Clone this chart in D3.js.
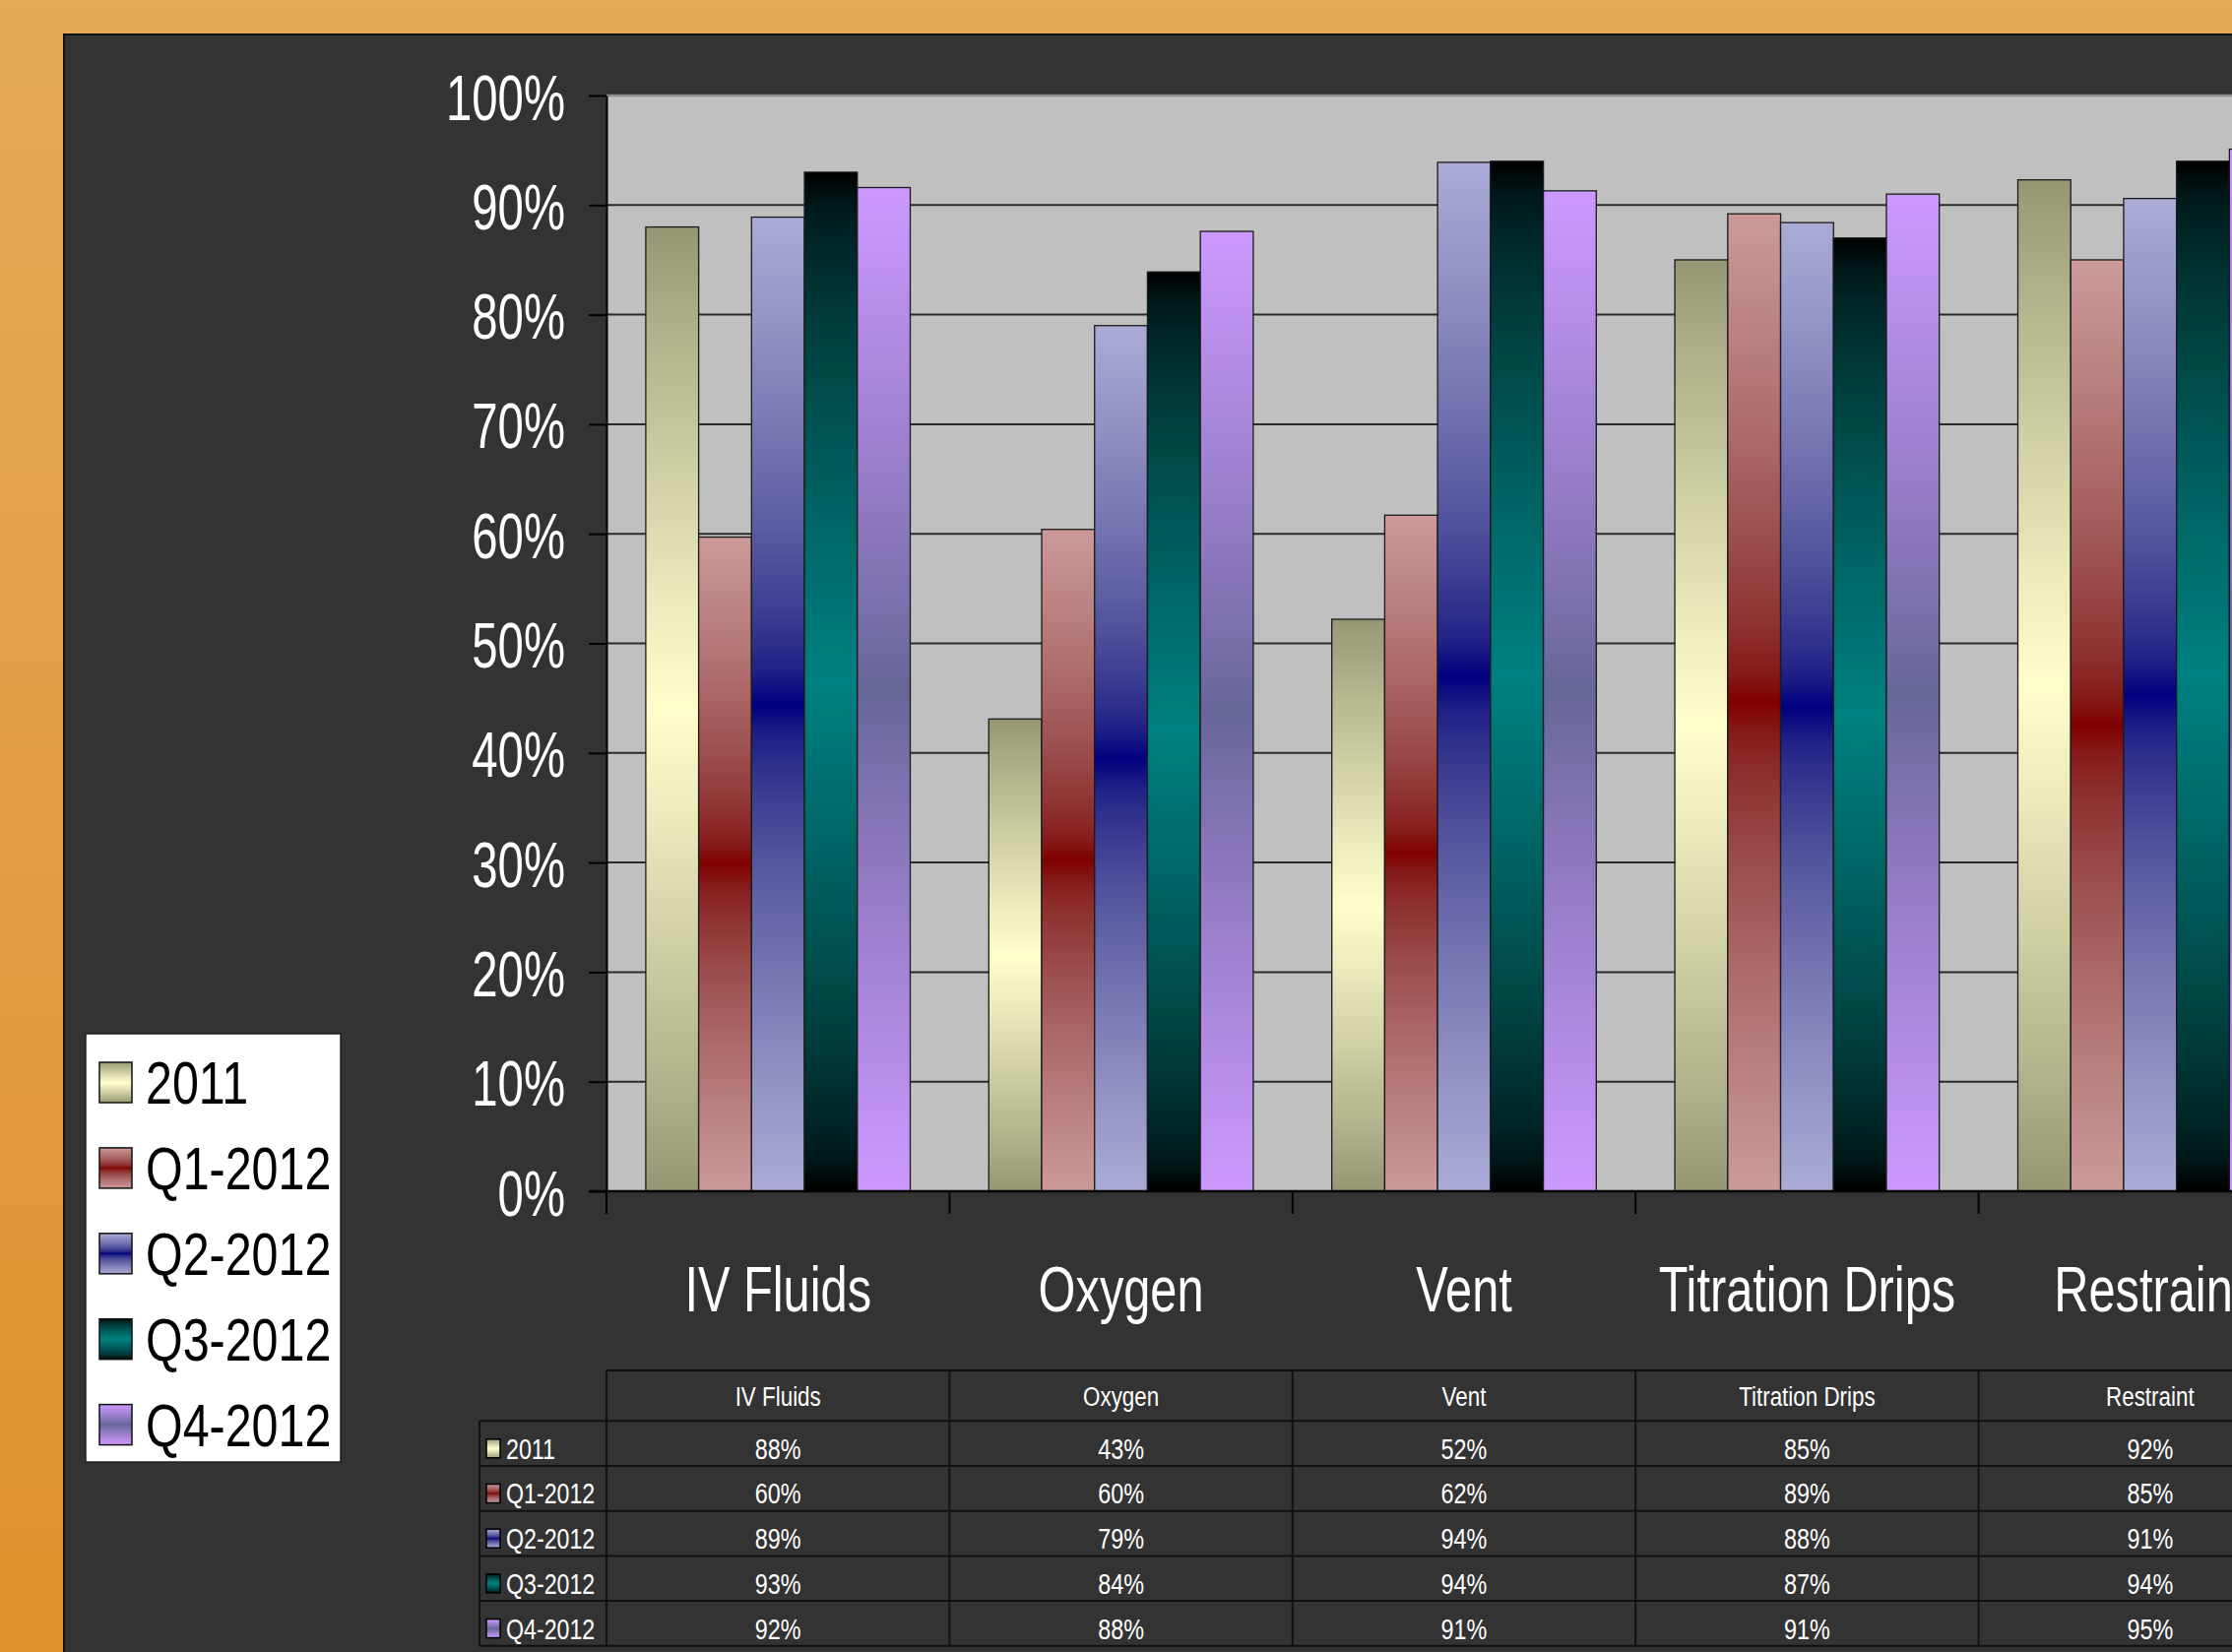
<!DOCTYPE html>
<html>
<head>
<meta charset="utf-8">
<script src="https://cdn.jsdelivr.net/npm/d3@7/dist/d3.min.js"></script>
<style>
  html, body { margin: 0; padding: 0; overflow: hidden; background: #E3A048; }
  svg { display: block; }
  text { font-family: "Liberation Sans", Arial, sans-serif; }
</style>
</head>
<body>
<script>
// ---------------- data ----------------
const categories = ["IV Fluids", "Oxygen", "Vent", "Titration Drips", "Restraint"];
const series = ["2011", "Q1-2012", "Q2-2012", "Q3-2012", "Q4-2012"];
const values2011 = [0.880, 0.431, 0.522, 0.850, 0.923];
const valuesQ1 = [0.597, 0.604, 0.617, 0.892, 0.850];
const valuesQ2 = [0.889, 0.790, 0.939, 0.884, 0.906];
const valuesQ3 = [0.930, 0.839, 0.940, 0.870, 0.940];
const valuesQ4 = [0.916, 0.876, 0.913, 0.910, 0.951];
const yTicks = [0, 0.1, 0.2, 0.3, 0.4, 0.5, 0.6, 0.7, 0.8, 0.9, 1.0];
const seriesValues = [values2011, valuesQ1, valuesQ2, valuesQ3, valuesQ4];
// gradient end / center colours per series
const gradEnds = ["#969675", "#CC9999", "#ABABD6", "#000000", "#CC99FF"];
const gradMids = ["#FFFFCC", "#800000", "#000080", "#008080", "#666699"];

// ---------------- layout ----------------
const W = 2267, H = 1678;
const plotLeft = 616, plotTop = 97, plotBottom = 1210;
const bandW = 348.4, halfGap = 39.9;

const svg = d3.select("body").append("svg").attr("width", W).attr("height", H);
const defs = svg.append("defs");

// background orange
const bg = defs.append("linearGradient").attr("id", "bgGrad").attr("x1", 0).attr("y1", 0).attr("x2", 0).attr("y2", 1);
bg.append("stop").attr("offset", "0%").attr("stop-color", "#E5A958");
bg.append("stop").attr("offset", "100%").attr("stop-color", "#E0912F");
svg.append("rect").attr("width", W).attr("height", H).attr("fill", "url(#bgGrad)");

// dark panel
svg.append("rect").attr("x", 65).attr("y", 35).attr("width", W).attr("height", H)
  .attr("fill", "#333333").attr("stroke", "#111").attr("stroke-width", 2);

// gradients per series (end -> center -> end, gamma-corrected blend)
series.forEach((s, i) => {
  const g = defs.append("linearGradient").attr("id", "g" + i)
    .attr("x1", 0).attr("y1", 0).attr("x2", 0).attr("y2", 1);
  const interp = d3.interpolateRgb.gamma(1.6)(gradEnds[i], gradMids[i]);
  const n = 16;
  d3.range(n + 1).forEach(k => {
    const t = k / n;
    g.append("stop").attr("offset", (t * 50) + "%").attr("stop-color", interp(t));
  });
  d3.range(n - 1, -1, -1).forEach(k => {
    const t = k / n;
    g.append("stop").attr("offset", (100 - t * 50) + "%").attr("stop-color", interp(t));
  });
});

// scales
const x0 = d3.scaleBand().domain(categories).range([plotLeft, plotLeft + categories.length * bandW]);
const x1 = d3.scaleBand().domain(series).range([halfGap, bandW - halfGap]);
const y = d3.scaleLinear().domain([0, 1]).range([plotBottom, plotTop]);
const plotRight = plotLeft + categories.length * bandW;

// plot area
svg.append("rect").attr("x", plotLeft).attr("y", plotTop)
  .attr("width", plotRight - plotLeft).attr("height", plotBottom - plotTop)
  .attr("fill", "#C0C0C0");

// gridlines
svg.append("g").selectAll("line").data(yTicks.filter(t => t > 0 && t < 1)).join("line")
  .attr("x1", plotLeft).attr("x2", plotRight)
  .attr("y1", d => y(d)).attr("y2", d => y(d))
  .attr("stroke", "#2a2a2a").attr("stroke-width", 2);
svg.append("line").attr("x1", plotLeft).attr("x2", plotRight)
  .attr("y1", y(1)).attr("y2", y(1)).attr("stroke", "#8a8a8a").attr("stroke-width", 2.5);

// bars
const groups = svg.append("g").selectAll("g").data(categories).join("g")
  .attr("transform", d => `translate(${x0(d)},0)`);
groups.selectAll("rect").data((c, ci) => series.map((s, si) => ({ s, si, v: seriesValues[si][ci] })))
  .join("rect")
  .attr("x", d => x1(d.s))
  .attr("y", d => y(d.v))
  .attr("width", x1.bandwidth())
  .attr("height", d => y(0) - y(d.v))
  .attr("fill", d => `url(#g${d.si})`)
  .attr("stroke", "#1a1a1a").attr("stroke-width", 1.3);

// y axis
const yAxis = d3.axisLeft(y).tickValues(yTicks).tickFormat(d3.format(".0%")).tickSize(18).tickSizeOuter(0);
const yg = svg.append("g").attr("transform", `translate(${plotLeft},0)`).call(yAxis);
yg.select(".domain").attr("stroke", "#000").attr("stroke-width", 2);
yg.selectAll(".tick line").attr("stroke", "#000").attr("stroke-width", 2);
yg.selectAll(".tick text")
  .attr("x", null).attr("dy", null)
  .attr("transform", "translate(-42,24) scale(0.74,1)")
  .attr("fill", "#fff").attr("font-size", 64)
  .attr("text-anchor", "end")
  .style("font-family", '"Liberation Sans", Arial, sans-serif');

// x axis line and ticks
svg.append("line").attr("x1", plotLeft - 18).attr("x2", plotRight)
  .attr("y1", plotBottom).attr("y2", plotBottom).attr("stroke", "#000").attr("stroke-width", 2.5);
const boundaries = categories.map(c => x0(c)).concat([plotRight]);
svg.append("g").selectAll("line").data(boundaries).join("line")
  .attr("x1", d => d).attr("x2", d => d)
  .attr("y1", plotBottom).attr("y2", plotBottom + 23)
  .attr("stroke", "#000").attr("stroke-width", 2);

// category labels
svg.append("g").selectAll("text").data(categories).join("text")
  .attr("transform", d => `translate(${x0(d) + bandW / 2},1332) scale(0.75,1)`)
  .attr("text-anchor", "middle").attr("fill", "#fff").attr("font-size", 65)
  .text(d => d);

// ---------------- data table ----------------
const tHeadTop = 1392, rowTop0 = 1443.3, rowH = 45.7, tLeft = 487;
const tg = svg.append("g");
const lineCol = "#111";
tg.append("line").attr("x1", plotLeft).attr("x2", plotRight).attr("y1", tHeadTop).attr("y2", tHeadTop)
  .attr("stroke", lineCol).attr("stroke-width", 2);
tg.selectAll("line.row").data(d3.range(series.length + 1)).join("line").attr("class", "row")
  .attr("x1", tLeft).attr("x2", plotRight)
  .attr("y1", i => rowTop0 + i * rowH).attr("y2", i => rowTop0 + i * rowH)
  .attr("stroke", lineCol).attr("stroke-width", 2);
tg.selectAll("line.col").data(boundaries).join("line").attr("class", "col")
  .attr("x1", d => d).attr("x2", d => d)
  .attr("y1", tHeadTop).attr("y2", rowTop0 + series.length * rowH)
  .attr("stroke", lineCol).attr("stroke-width", 2);
tg.append("line").attr("x1", tLeft).attr("x2", tLeft)
  .attr("y1", rowTop0).attr("y2", rowTop0 + series.length * rowH)
  .attr("stroke", lineCol).attr("stroke-width", 2);
tg.selectAll("text.head").data(categories).join("text").attr("class", "head")
  .attr("transform", d => `translate(${x0(d) + bandW / 2},1428) scale(0.8,1)`)
  .attr("text-anchor", "middle").attr("fill", "#fff").attr("font-size", 28)
  .text(d => d);
series.forEach((s, si) => {
  const top = rowTop0 + si * rowH;
  tg.append("rect").attr("x", 494).attr("y", top + 18.5).attr("width", 14).attr("height", 19)
    .attr("fill", `url(#g${si})`).attr("stroke", "#000").attr("stroke-width", 1.5);
  tg.append("text").attr("transform", `translate(514,${top + 38.4}) scale(0.8,1)`)
    .attr("fill", "#fff").attr("font-size", 29).text(s);
  tg.selectAll(null).data(categories).join("text")
    .attr("transform", (c) => `translate(${x0(c) + bandW / 2},${top + 38.4}) scale(0.78,1)`)
    .attr("text-anchor", "middle").attr("fill", "#fff").attr("font-size", 30)
    .text((c, ci) => d3.format(".0%")(seriesValues[si][ci]));
});

// ---------------- legend ----------------
const lg = svg.append("g");
lg.append("rect").attr("x", 87).attr("y", 1050).attr("width", 259).attr("height", 435)
  .attr("fill", "#fff").attr("stroke", "#222").attr("stroke-width", 1.5);
series.forEach((s, si) => {
  const top = 1079 + si * 86.9;
  lg.append("rect").attr("x", 101).attr("y", top).attr("width", 33).attr("height", 41)
    .attr("fill", `url(#g${si})`).attr("stroke", "#111").attr("stroke-width", 1.5);
  lg.append("text").attr("transform", `translate(148,${top + 42}) scale(0.8,1)`)
    .attr("fill", "#000").attr("font-size", 60.5).text(s);
});
</script>
</body>
</html>
